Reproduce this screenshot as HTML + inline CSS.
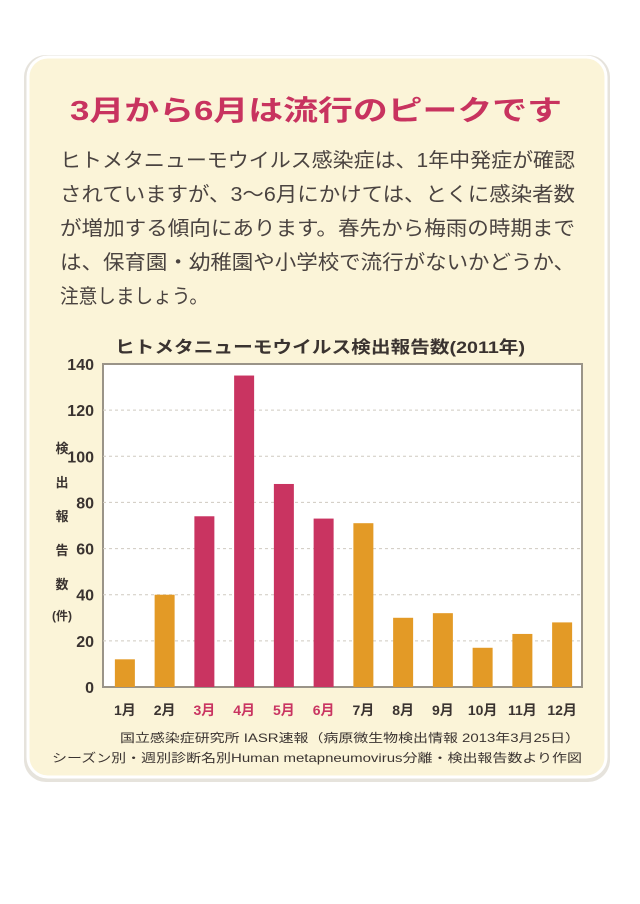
<!DOCTYPE html>
<html><head><meta charset="utf-8"><style>
html,body{margin:0;padding:0;background:#fff;}
svg{display:block;font-family:"Liberation Sans","Noto Sans CJK JP",sans-serif;}
</style></head><body>
<svg id="c" width="640" height="904" viewBox="0 0 640 904">
<rect x="24" y="55" width="586" height="727" rx="22" fill="#e6e3dc"/>
<rect x="28" y="57" width="578" height="720" rx="20" fill="#fbf4d8" stroke="#ffffff" stroke-width="3"/>
<text x="316" y="120" text-anchor="middle" font-size="28" font-weight="bold" fill="#c8335f" textLength="492" lengthAdjust="spacingAndGlyphs">3月から6月は流行のピークです</text>
<g font-size="20" fill="#4a4340">
<text x="60" y="167" textLength="515" lengthAdjust="spacingAndGlyphs">ヒトメタニューモウイルス感染症は、1年中発症が確認</text>
<text x="60" y="201" textLength="515" lengthAdjust="spacingAndGlyphs">されていますが、3〜6月にかけては、とくに感染者数</text>
<text x="60" y="235" textLength="515" lengthAdjust="spacingAndGlyphs">が増加する傾向にあります。春先から梅雨の時期まで</text>
<text x="60" y="269" textLength="515" lengthAdjust="spacingAndGlyphs">は、保育園・幼稚園や小学校で流行がないかどうか、</text>
<text x="60" y="303" textLength="148" lengthAdjust="spacingAndGlyphs">注意しましょう。</text>
</g>
<text x="115" y="353" font-size="17" font-weight="bold" fill="#3a3330" textLength="410" lengthAdjust="spacingAndGlyphs">ヒトメタニューモウイルス検出報告数(2011年)</text>
<rect x="103" y="364" width="479" height="323" fill="#ffffff" stroke="#9a9488" stroke-width="2"/>
<g id="grid"></g><g id="bars"></g><g id="ticks"></g><g id="xlabels"></g>
<g font-size="13" font-weight="bold" fill="#3a3330" text-anchor="middle">
<text x="62" y="453">検</text><text x="62" y="487">出</text><text x="62" y="521">報</text><text x="62" y="555">告</text><text x="62" y="589">数</text><text x="62" y="620" font-size="12">(件)</text>
</g>
<text x="580" y="742" text-anchor="end" font-size="12" fill="#3a3330" textLength="460" lengthAdjust="spacingAndGlyphs">国立感染症研究所 IASR速報（病原微生物検出情報 2013年3月25日）</text>
<text x="582" y="762" text-anchor="end" font-size="12" fill="#3a3330" textLength="530" lengthAdjust="spacingAndGlyphs">シーズン別・週別診断名別Human metapneumovirus分離・検出報告数より作図</text>
</svg>
<script>
const months=["1月","2月","3月","4月","5月","6月","7月","8月","9月","10月","11月","12月"];
const counts=[12,40,74,135,88,73,71,30,32,17,23,28];
const peak=[false,false,true,true,true,true,false,false,false,false,false,false];
const yTicks=[0,20,40,60,80,100,120,140];
const NS="http://www.w3.org/2000/svg";
const X0=103,X1=582,Y0=687,Y1=364,YMAX=140;
function y(v){return Y0-(v/YMAX)*(Y0-Y1);}
function xc(i){return X0+2+(X1-X0-2)/months.length*(i+0.5);}
function mk(t,a,p){const e=document.createElementNS(NS,t);for(const k in a)e.setAttribute(k,a[k]);p.appendChild(e);return e;}
const grid=document.getElementById('grid'),bars=document.getElementById('bars'),ticks=document.getElementById('ticks'),xl=document.getElementById('xlabels');
yTicks.forEach(v=>{
 if(v>0&&v<YMAX){const l=mk('line',{x1:X0,x2:X1,y1:y(v),y2:y(v),stroke:'#cfcac0','stroke-dasharray':'3,3'},grid);
 
 }
 const t=mk('text',{x:94,y:y(v)+6,'text-anchor':'end','font-size':16,'font-weight':'bold',fill:'#3a3330'},ticks);
 t.textContent=v;
 
 
});
counts.forEach((v,i)=>{
 const r=mk('rect',{x:xc(i)-10,y:y(v),width:20,height:Y0-y(v),fill:peak[i]?'#c93461':'#e39a26'},bars);
 
 
 const t=mk('text',{x:xc(i),y:715,'text-anchor':'middle','font-size':14,'font-weight':'bold',fill:peak[i]?'#c93461':'#3a3330'},xl);
 t.textContent=months[i];
 
 
});
</script>
</body></html>
